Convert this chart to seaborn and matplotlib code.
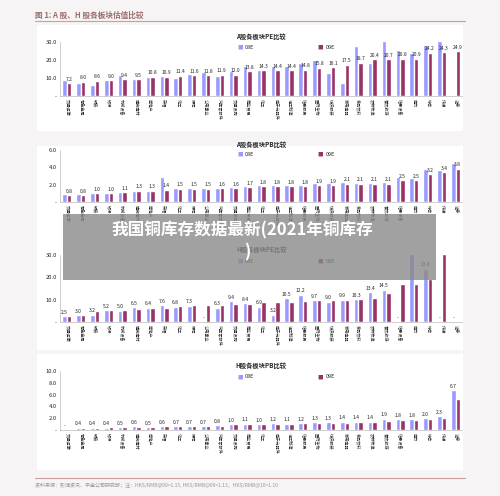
import numpy as np, pandas as pd
import matplotlib
matplotlib.use("Agg")
import matplotlib.pyplot as plt
import seaborn as sns
from matplotlib.patches import Rectangle

sns.set_style("white")
plt.rcParams['font.family'] = ['Noto Sans CJK SC', 'DejaVu Sans']

cats = ["交通运输","有色金属","钢铁","银行","机械设备","建筑建材","房地产","采掘","化工","保险",
        "公用事业","汽车零部件","交通设施","商业贸易","化工","电子元器件","轻工制造","信息服务","医药生物","纺织服装",
        "家用电器","食品饮料","农林牧渔","餐饮旅游","信息设备","电力","综合","传媒","证券"]

a_pe_08 = [9.2,7.5,6.0,9.2,11.8,9.6,10.8,11.0,10.2,12.3,13.5,11.0,14.0,16.5,14.3,17.0,16.5,18.5,20.3,13.0,7.5,28.0,18.7,30.5,25.5,23.8,28.5,30.5,np.nan]
a_pe_09 = [7.2,8.0,8.6,9.0,9.4,9.5,10.8,10.9,11.4,11.6,11.8,11.9,12.0,13.8,14.3,14.4,14.4,14.8,15.8,16.1,17.5,18.7,20.4,20.7,20.8,20.9,24.2,24.3,24.9]
a_pb_08 = [0.85,0.85,1.0,1.05,1.1,1.3,1.3,2.9,1.6,1.55,1.6,1.65,1.7,1.85,1.9,1.95,2.0,1.9,2.2,2.2,2.25,2.2,2.2,2.25,2.9,2.7,3.8,3.7,4.5]
a_pb_09 = [0.8,0.8,1.0,1.0,1.1,1.3,1.3,1.4,1.5,1.5,1.5,1.6,1.6,1.7,1.8,1.8,1.8,1.8,1.9,1.9,2.1,2.1,2.1,2.1,2.5,2.5,3.2,3.4,3.8]
h_pe_08 = [2.5,3.0,3.2,5.2,5.0,6.5,6.4,7.6,6.8,7.3,np.nan,6.3,9.4,8.4,6.9,3.2,10.5,12.2,9.7,9.0,9.9,10.3,13.4,14.5,np.nan,30.5,23.8,np.nan,np.nan]
h_pe_09 = [2.7,3.3,4.8,5.4,5.5,5.9,6.4,6.4,7.2,7.5,7.5,7.5,8.2,8.0,8.7,8.7,8.7,9.2,9.8,10.0,10.0,10.3,10.5,13.0,16.8,17.2,19.0,30.5,np.nan]
h_pb_08 = [np.nan,0.4,0.4,0.4,0.5,0.6,0.5,0.6,0.7,0.7,0.7,0.8,1.0,1.1,1.0,1.2,1.1,1.2,1.3,1.3,1.4,1.4,1.4,1.9,1.8,1.8,2.0,2.3,6.7]
h_pb_09 = [np.nan,0.35,0.4,0.45,0.45,0.5,0.45,0.6,0.65,0.7,0.7,0.75,0.95,1.0,0.95,1.1,1.05,1.15,1.2,1.2,1.25,1.3,1.35,1.6,1.7,1.75,1.8,2.1,5.2]

titles = ["A股各板块PE比较","A股各板块PB比较","H股各板块PE比较","H股各板块PB比较"]
blue, purple = "#9999ff", "#993366"

fig = plt.figure(figsize=(5.0,4.96), dpi=100)
fig.patch.set_facecolor("#f6f4f4")
fig.text(0.07, 0.965, "图 1: A 股、H 股各板块估值比较", fontsize=5.5, color="#9b6b6b", fontweight="bold")
fig.add_artist(plt.Line2D([0.07,0.93],[0.957,0.957], color="#c9a0a0", lw=0.8))
fig.add_artist(plt.Line2D([0.07,0.93],[0.037,0.037], color="#c9a0a0", lw=0.8))
fig.text(0.07, 0.018, "资料来源：彭博资讯、中金公司研究部；注：HKS/RMB@09=1.15, HKS/RMB@09=1.13，HKS/RMB@10=1.10",
         fontsize=3.6, color="#999999")

panels = [
    (a_pe_08,a_pe_09,(0.074,0.735,0.852,0.215),(0.12,0.806,0.805,0.109),30,[0,10,20,30],1),
    (a_pb_08,a_pb_09,(0.074,0.49,0.852,0.215),(0.12,0.593,0.805,0.105),6,[0,2,4,6],1),
    (h_pe_08,h_pe_09,(0.074,0.295,0.852,0.2),(0.12,0.351,0.805,0.135),30,[0,10,20,30],0),
    (h_pb_08,h_pb_09,(0.074,0.052,0.852,0.235),(0.12,0.133,0.805,0.119),10,[0,2,4,6,8,10],0),
]
for i,(v8,v9,bg,pos,ymax,ticks,lab) in enumerate(panels):
    fig.add_artist(Rectangle(bg[:2], bg[2], bg[3], transform=fig.transFigure, facecolor="white", edgecolor="none", zorder=0))
    ax = fig.add_axes(pos)
    df = pd.DataFrame({"cat": list(range(len(cats)))*2, "v": list(v8)+list(v9),
                       "s": ["08E"]*len(cats)+["09E"]*len(cats)})
    df["v"] = df["v"].fillna(0)
    sns.barplot(data=df, x="cat", y="v", hue="s", palette=[blue, purple], ax=ax,
                width=0.65, legend=False, saturation=1)
    vals = v9 if lab == 1 else v8
    labels = ["-" if np.isnan(x) else f"{x:.1f}" for x in vals]
    ax.bar_label(ax.containers[lab], labels=labels, fontsize=3.6, padding=1)
    ax.set_ylim(0, ymax)
    ax.set_yticks(ticks)
    ax.set_yticklabels(["-"]+[f"{t:.1f}" for t in ticks[1:]], fontsize=4.2)
    ax.set_xticks(range(len(cats)))
    ax.set_xticklabels(cats, rotation=270, fontsize=3.0)
    ax.tick_params(length=0, pad=2)
    ax.set_xlabel(""); ax.set_ylabel("")
    for s in ["top","right"]: ax.spines[s].set_visible(False)
    for s in ["left","bottom"]: ax.spines[s].set_color("#bbbbbb"); ax.spines[s].set_linewidth(0.5)
    ax.set_title(titles[i], fontsize=4.5, fontweight="bold", pad=2)
    ax.text(0.44, 0.88, "■", color=blue, fontsize=4, transform=ax.transAxes)
    ax.text(0.46, 0.88, "08E", fontsize=4, transform=ax.transAxes)
    ax.text(0.64, 0.88, "■", color=purple, fontsize=4, transform=ax.transAxes)
    ax.text(0.66, 0.88, "09E", fontsize=4, transform=ax.transAxes)

fig.add_artist(Rectangle((0.126,0.435), 0.745, 0.133, transform=fig.transFigure,
                         facecolor="#8a8a8a", alpha=0.8, edgecolor="none", zorder=10))
fig.text(0.485, 0.535, "我国铜库存数据最新(2021年铜库存", ha="center", va="center", fontsize=12,
         color="white", fontweight="bold", zorder=11)
fig.text(0.495, 0.49, ")", ha="center", va="center", fontsize=12, color="white", fontweight="bold", zorder=11)
fig.savefig("out.png", dpi=100, facecolor=fig.get_facecolor())
